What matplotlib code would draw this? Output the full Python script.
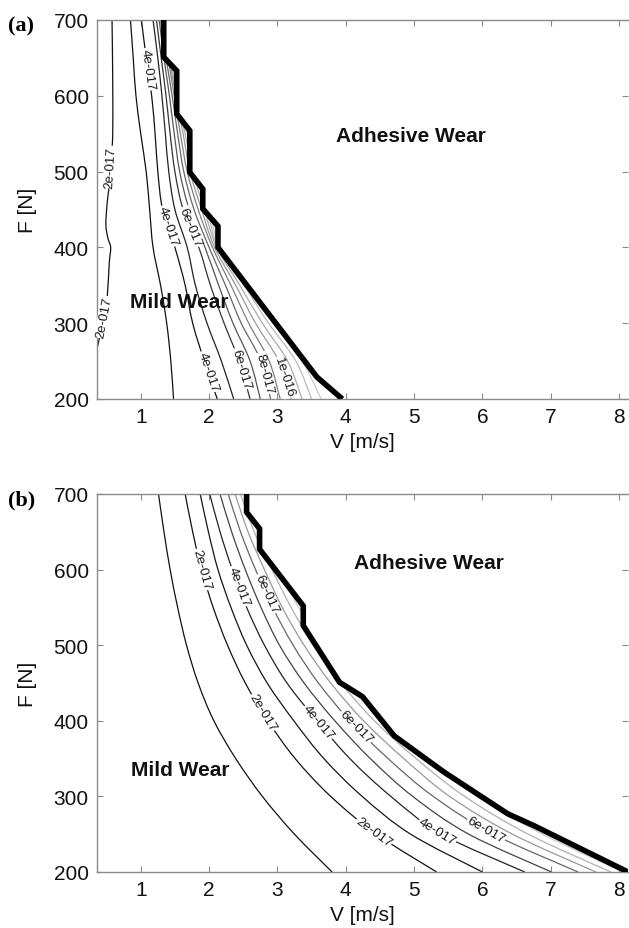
import numpy as np
import matplotlib
matplotlib.use('Agg')
import matplotlib.pyplot as plt
from matplotlib.patches import Polygon, PathPatch
from matplotlib.path import Path

plt.rcParams['font.family'] = ['Liberation Sans', 'DejaVu Sans']

# ---------------- data: panel (a) ----------------
a_F = [700, 650, 600, 550, 500, 450, 400, 350, 300, 250, 200]
a_2e_F = [700, 620, 550, 520, 490, 460, 430, 412, 400, 380, 335, 310, 290, 266]
a_2e_V = [0.58, 0.59, 0.59, 0.57, 0.55, 0.51, 0.49, 0.52, 0.56, 0.54, 0.51, 0.47, 0.42, 0.36]
a_3e_V = [0.85, 0.89, 0.93, 1.00, 1.08, 1.13, 1.18, 1.29, 1.38, 1.44, 1.48]
a_4e_V = [1.01, 1.08, 1.16, 1.21, 1.25, 1.32, 1.50, 1.65, 1.76, 1.93, 2.12]
a_5e_V = [1.18, 1.25, 1.31, 1.36, 1.41, 1.50, 1.68, 1.80, 1.97, 2.18, 2.36]
a_6e_V = [1.23, 1.30, 1.37, 1.43, 1.50, 1.62, 1.85, 2.02, 2.22, 2.44, 2.60]
a_7e_V = [1.27, 1.34, 1.42, 1.49, 1.57, 1.71, 1.94, 2.14, 2.35, 2.60, 2.75]
a_8e_V = [1.29, 1.37, 1.46, 1.54, 1.63, 1.78, 2.00, 2.24, 2.47, 2.76, 2.90]
a_9e_V = [1.31, 1.40, 1.49, 1.58, 1.68, 1.84, 2.05, 2.32, 2.58, 2.88, 3.04]
a_10e_V = [1.32, 1.42, 1.51, 1.62, 1.72, 1.89, 2.08, 2.39, 2.68, 3.02, 3.20]
a_11e_V = [1.33, 1.44, 1.52, 1.65, 1.76, 1.93, 2.11, 2.45, 2.78, 3.15, 3.36]
a_12e_V = [1.34, 1.46, 1.53, 1.68, 1.80, 1.97, 2.13, 2.51, 2.87, 3.27, 3.50]
a_13e_V = [1.35, 1.48, 1.55, 1.70, 1.84, 2.00, 2.16, 2.56, 2.94, 3.36, 3.64]
a_bnd_V = [1.337, 1.337, 1.527, 1.527, 1.718, 1.718, 1.908, 1.908, 2.13, 2.13, 3.577, 3.95]
a_bnd_F = [700, 651, 633, 576, 554, 499, 477, 451, 428, 400, 229, 200]

# ---------------- data: panel (b) ----------------
b_F = [700, 650, 600, 550, 500, 450, 400, 350, 300, 250, 200]
b_1e_V = [1.26, 1.34, 1.43, 1.54, 1.67, 1.84, 2.07, 2.39, 2.78, 3.25, 3.80]
b_2e_V = [1.65, 1.76, 1.89, 2.06, 2.27, 2.53, 2.86, 3.26, 3.78, 4.45, 5.33]
b_3e_V = [1.87, 1.99, 2.13, 2.32, 2.55, 2.85, 3.24, 3.68, 4.24, 4.95, 6.00]
b_4e_V = [2.01, 2.16, 2.34, 2.55, 2.81, 3.14, 3.58, 4.06, 4.66, 5.40, 6.62]
b_5e_V = [2.16, 2.33, 2.53, 2.76, 3.03, 3.39, 3.84, 4.36, 4.98, 5.80, 7.01]
b_6e_V = [2.28, 2.46, 2.68, 2.93, 3.23, 3.60, 4.06, 4.62, 5.28, 6.16, 7.40]
b_7e_V = [2.38, 2.57, 2.81, 3.07, 3.39, 3.78, 4.26, 4.85, 5.52, 6.44, 7.66]
b_8e_V = [2.46, 2.66, 2.92, 3.20, 3.53, 3.93, 4.42, 5.03, 5.74, 6.67, 7.88]
b_9e_V = [2.53, 2.74, 3.02, 3.31, 3.65, 4.07, 4.56, 5.19, 5.92, 6.88, 8.06]
b_bnd_V = [2.549, 2.549, 2.739, 2.739, 3.378, 3.378, 3.908, 4.244, 4.71, 5.44, 6.37, 6.76, 8.13]
b_bnd_F = [700, 676, 654, 627, 552, 526, 451, 432, 380, 332, 277, 261, 200]

x_ticks = [1, 2, 3, 4, 5, 6, 7, 8]
y_ticks = [200, 300, 400, 500, 600, 700]

# label text, line key, F position of label
a_labels = [('2e-017', '2e', 506), ('2e-017', '2e', 308),
            ('4e-017', '4e', 635), ('4e-017', '4e', 428), ('4e-017', '4e', 236),
            ('6e-017', '6e', 427), ('6e-017', '6e', 240),
            ('8e-017', '8e', 234), ('1e-016', '10e', 229)]
b_labels = [('2e-017', '2e', 600), ('2e-017', '2e', 411), ('2e-017', '2e', 253),
            ('4e-017', '4e', 578), ('4e-017', '4e', 398), ('4e-017', '4e', 254),
            ('6e-017', '6e', 568), ('6e-017', '6e', 392), ('6e-017', '6e', 256)]

a_lines = {'2e': (a_2e_V, a_2e_F), '3e': (a_3e_V, a_F), '4e': (a_4e_V, a_F),
           '5e': (a_5e_V, a_F), '6e': (a_6e_V, a_F), '7e': (a_7e_V, a_F),
           '8e': (a_8e_V, a_F), '9e': (a_9e_V, a_F), '10e': (a_10e_V, a_F),
           '11e': (a_11e_V, a_F), '12e': (a_12e_V, a_F), '13e': (a_13e_V, a_F)}
a_colors = {'2e': '#111111', '3e': '#111111', '4e': '#111111', '5e': '#222222',
            '6e': '#333333', '7e': '#555555', '8e': '#666666', '9e': '#808080',
            '10e': '#999999', '11e': '#aaaaaa', '12e': '#bbbbbb', '13e': '#c8c8c8'}
b_lines = {'1e': (b_1e_V, b_F), '2e': (b_2e_V, b_F), '3e': (b_3e_V, b_F),
           '4e': (b_4e_V, b_F), '5e': (b_5e_V, b_F), '6e': (b_6e_V, b_F),
           '7e': (b_7e_V, b_F), '8e': (b_8e_V, b_F), '9e': (b_9e_V, b_F)}
b_colors = {'1e': '#111111', '2e': '#111111', '3e': '#151515', '4e': '#222222',
            '5e': '#444444', '6e': '#666666', '7e': '#999999', '8e': '#b0b0b0',
            '9e': '#c8c8c8'}

XLIM = (0.36, 8.13)
YLIM = (200, 700)
SPINE = '#8a8a8a'

fig = plt.figure(figsize=(6.29, 9.29), dpi=100)
ax_a = fig.add_axes([97 / 629, 1 - 400 / 929, 531 / 629, 379 / 929])
ax_b = fig.add_axes([97 / 629, 1 - 873 / 929, 531 / 629, 378 / 929])


def style(ax):
    ax.set_xlim(*XLIM)
    ax.set_ylim(*YLIM)
    ax.set_xticks(x_ticks)
    ax.set_yticks(y_ticks)
    for s in ['left', 'bottom', 'top']:
        ax.spines[s].set_color(SPINE)
        ax.spines[s].set_linewidth(1.0)
    ax.spines['right'].set_visible(False)
    ax.tick_params(direction='in', length=4, width=0.8, color=SPINE,
                   top=True, right=True, labelsize=15, pad=6, labelcolor='#111111')
    ax.set_xlabel('V [m/s]', fontsize=15, labelpad=4, color='#111111')
    ax.set_ylabel('F [N]', fontsize=15, labelpad=12, color='#111111')


def smooth_path(V, F):
    """Catmull-Rom curve through the given points, drawn as cubic Bezier segments."""
    P = np.column_stack([np.asarray(V, float), np.asarray(F, float)])
    n = len(P)
    verts = [P[0]]
    codes = [Path.MOVETO]
    for i in range(n - 1):
        p0 = P[i - 1] if i > 0 else P[i]
        p1 = P[i]
        p2 = P[i + 1]
        p3 = P[i + 2] if i + 2 < n else P[i + 1]
        c1 = p1 + (p2 - p0) / 6.0
        c2 = p2 - (p3 - p1) / 6.0
        verts += [c1, c2, p2]
        codes += [Path.CURVE4] * 3
    return Path(verts, codes)


def draw(ax, lines, colors, bndV, bndF, labels):
    verts = list(zip(bndV, bndF)) + [(bndV[-1], 100), (-1, 100), (-1, 800), (bndV[0], 800)]
    poly = Polygon(verts, closed=True, transform=ax.transData)
    for key, (V, F) in lines.items():
        patch = PathPatch(smooth_path(V, F), fc='none', ec=colors[key], lw=0.9, zorder=2)
        ax.add_patch(patch)
        patch.set_clip_path(poly)
    ax.plot(bndV, bndF, color='black', lw=4.0, zorder=5,
            solid_joinstyle='miter', solid_capstyle='butt')
    for text, key, f in labels:
        V, F = lines[key]
        Vr = np.asarray(V, float)[::-1]
        Fr = np.asarray(F, float)[::-1]
        v = np.interp(f, Fr, Vr)
        v1 = np.interp(f + 12, Fr, Vr)
        v2 = np.interp(f - 12, Fr, Vr)
        p1 = ax.transData.transform((v1, f + 12))
        p2 = ax.transData.transform((v2, f - 12))
        ang = np.degrees(np.arctan2(p2[1] - p1[1], p2[0] - p1[0]))
        if ang > 90:
            ang -= 180
        if ang <= -90:
            ang += 180
        ax.text(v, f, text, rotation=ang, rotation_mode='anchor', ha='center',
                va='center', fontsize=9.5, color='#1a1a1a', zorder=4,
                bbox=dict(boxstyle='square,pad=0.05', fc='white', ec='none'))


style(ax_a)
style(ax_b)
draw(ax_a, a_lines, a_colors, a_bnd_V, a_bnd_F, a_labels)
draw(ax_b, b_lines, b_colors, b_bnd_V, b_bnd_F, b_labels)

ax_a.text(4.95, 547, 'Adhesive Wear', fontsize=15, fontweight='bold',
          ha='center', va='center', color='#111111', zorder=6)
ax_a.text(1.57, 328, 'Mild Wear', fontsize=15, fontweight='bold',
          ha='center', va='center', color='#111111', zorder=6)
ax_b.text(5.21, 609, 'Adhesive Wear', fontsize=15, fontweight='bold',
          ha='center', va='center', color='#111111', zorder=6)
ax_b.text(1.58, 336, 'Mild Wear', fontsize=15, fontweight='bold',
          ha='center', va='center', color='#111111', zorder=6)

fig.text(8 / 629, 1 - 26 / 929, '(a)', fontsize=16, fontweight='bold',
         family=['Liberation Serif', 'DejaVu Serif'], ha='left', va='center')
fig.text(8 / 629, 1 - 500 / 929, '(b)', fontsize=16, fontweight='bold',
         family=['Liberation Serif', 'DejaVu Serif'], ha='left', va='center')

fig.savefig('out.png', dpi=100)
